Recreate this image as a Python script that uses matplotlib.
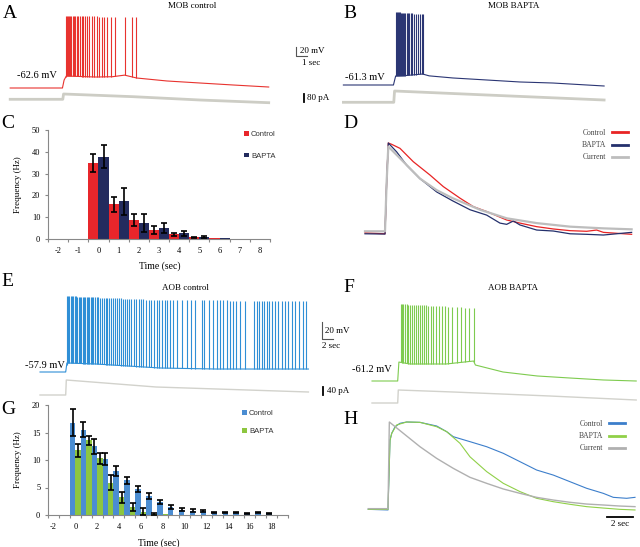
import numpy as np
import matplotlib.pyplot as plt
from matplotlib.lines import Line2D

plt.rcParams['font.family'] = ['Liberation Serif', 'DejaVu Serif']
plt.rcParams['axes.unicode_minus'] = False

W, H = 640, 547

# ---------------- data (t in s, V in mV, I in pA) ----------------
# A  MOB control
mob_ctrl_spikes = [0.24, 0.33, 0.42, 0.55, 0.64, 0.76, 0.88, 1.0, 1.12, 1.24, 1.39, 1.55,
                   1.7, 1.85, 2.0, 2.15, 2.39, 2.61, 2.82, 3.06, 3.3, 3.52, 3.76, 4.03,
                   4.36, 4.73, 5.64, 6.3, 6.64]
mob_ctrl_peak_t = [0, 6.7]
mob_ctrl_peak_v = [97.4, 95.0]
mob_ctrl_t = [-4.8, -0.05, 0.1, 0.3, 1.5, 3.0, 4.5, 5.6, 6.7, 9.45, 12.45, 15.45, 18.7]
mob_ctrl_v = [-62.6, -62.6, -45.0, -35.9, -37.0, -38.2, -37.5, -34.0, -40.4, -47.0, -51.5, -55.9, -60.4]
mob_ctrl_cur_t = [-4.8, -0.02, 0.05, 6.4, 12.45, 18.7]
mob_ctrl_cur = [0, 0, 53, 26, -7, -34]

# B  MOB BAPTA
mob_bapta_spikes = [0.18, 0.27, 0.36, 0.45, 0.55, 0.64, 0.73, 0.82, 0.91, 1.03, 1.15, 1.27,
                    1.39, 1.52, 1.67, 1.82, 1.97, 2.15, 2.33, 2.52, 2.61]
mob_bapta_peak_t = [0, 2.6]
mob_bapta_peak_v = [100.9, 96.0]
mob_bapta_t = [-4.6, -0.05, 0.15, 1.2, 2.6, 3.2, 5.36, 8.45, 11.45, 14.45, 19.1]
mob_bapta_v = [-61.3, -61.3, -41.3, -40.0, -36.9, -41.0, -45.7, -50.2, -54.6, -56.9, -63.5]
mob_bapta_cur_t = [-4.6, -0.02, 0.05, 8.45, 19.1]
mob_bapta_cur = [0, 0, 113, 73, 23]

# E  AOB control
aob_ctrl_spikes = [0.11, 0.33, 0.56, 0.78, 1.0, 1.22, 1.44, 1.67, 1.89, 2.11, 2.33, 2.56,
                   2.78, 3.0, 3.22, 3.44, 3.67, 3.89, 4.11, 4.33, 4.56, 4.83, 5.11, 5.39,
                   5.72, 6.0, 6.28, 6.61, 6.89, 7.22, 7.5, 7.83, 8.17, 8.44, 8.78, 9.11,
                   9.44, 9.78, 10.11, 10.5, 10.89, 11.28, 11.67, 12.11, 12.5, 12.89, 13.33,
                   13.78, 14.22, 14.67, 15.11, 15.56, 16.0, 16.44, 16.89, 17.33, 17.89,
                   18.56, 19.28, 20.11, 20.78, 21.5, 22.61, 23.06, 23.89, 24.56, 25.11,
                   25.67, 26.22, 26.78, 27.33, 27.89, 28.33, 29.0, 29.83, 31.33, 31.78,
                   32.22, 32.61, 33.0, 33.44, 33.89, 34.28, 34.83, 35.39, 35.94, 36.5,
                   37.06, 37.61, 38.17, 38.89, 39.44, 40.0]
aob_ctrl_peak_t = [0, 15, 40.4]
aob_ctrl_peak_v = [31.5, 26.8, 25.6]
aob_ctrl_t = [-4.33, -0.05, 0.15, 5.0, 15.7, 25.0, 40.4]
aob_ctrl_v = [-57.9, -57.9, -47.3, -48.5, -53.2, -54.4, -54.4]
aob_ctrl_cur_t = [-4.33, -0.05, 0.05, 15.0, 40.4]
aob_ctrl_cur = [0, 0, 75, 40, 15]

# F  AOB BAPTA
aob_bapta_spikes = [0.44, 0.67, 0.89, 1.17, 1.44, 1.72, 2.0, 2.33, 2.67, 3.0, 3.33, 3.67,
                    4.0, 4.33, 4.67, 5.06, 5.44, 5.89, 6.33, 6.78, 7.28, 7.83, 8.39, 9.06,
                    9.78, 10.44, 11.22, 11.89, 12.67]
aob_bapta_peak_t = [0, 12.7]
aob_bapta_peak_v = [29.4, 24.7]
aob_bapta_t = [-4.33, -0.05, 0.15, 2.0, 8.0, 12.6, 12.9, 17.5, 23.2, 28.7, 34.2, 39.7]
aob_bapta_v = [-61.2, -61.2, -38.9, -41.2, -41.2, -37.7, -42.4, -50.6, -55.3, -57.7, -60.0, -61.2]
aob_bapta_cur_t = [-4.33, -0.05, 0.05, 9.2, 25.3, 39.7]
aob_bapta_cur = [0, 0, 65, 55, 35, 15]

# C  MOB firing frequency (Hz) per 1 s bin
c_bins = [-2, -1, 0, 1, 2, 3, 4, 5, 6, 7, 8]
c_ctrl = [0.2, 0.2, 34.7, 15.9, 8.7, 4.1, 2.1, 0.8, 0.4, 0.2, 0.2]
c_ctrl_err = [0, 0, 4.1, 3.4, 2.7, 1.9, 0.5, 0.3, 0, 0, 0]
c_bapta = [0.2, 0.2, 37.8, 17.4, 7.2, 4.9, 2.6, 0.9, 0.3, 0.2, 0.2]
c_bapta_err = [0, 0, 5.2, 6.2, 4.2, 2.3, 1.1, 0.3, 0, 0, 0]

# G  AOB firing frequency (Hz) per 1 s bin
g_bins = list(range(-2, 20))
g_ctrl = [0, 0, 16.8, 15.5, 12.5, 10.2, 8.0, 6.3, 4.7, 3.5, 2.4, 1.5, 1.0, 0.8, 0.7,
          0.4, 0.5, 0.4, 0.3, 0.4, 0.35, 0]
g_ctrl_err = [0, 0, 2.4, 1.4, 1.4, 1.1, 0.9, 0.6, 0.6, 0.5, 0.4, 0.4, 0.3, 0.3, 0.2,
              0.1, 0.1, 0.1, 0.1, 0.1, 0.1, 0]
g_bapta = [0, 0, 11.8, 13.6, 10.3, 5.9, 3.2, 1.5, 0.6, 0.2, 0.1, 0, 0, 0, 0,
           0, 0, 0, 0, 0, 0, 0]
g_bapta_err = [0, 0, 1.2, 0.8, 1.0, 1.3, 1.0, 0.7, 0.6, 0.2, 0, 0, 0, 0, 0,
               0, 0, 0, 0, 0, 0, 0]

# D  normalised MOB overlay
d_ctrl_t = [-1.91, -0.09, 0.06, 0.21, 0.52, 1.27, 2.48, 4.0, 5.21, 6.73, 7.94, 9.15, 10.97,
            12.18, 13.7, 15.21, 16.73, 18.24, 19.15, 19.76, 22.33]
d_ctrl = [-0.01, -0.02, 0.57, 1.0, 0.985, 0.94, 0.79, 0.64, 0.51, 0.38, 0.285, 0.23, 0.135,
          0.10, 0.06, 0.034, 0.015, 0.008, 0.022, -0.004, -0.026]
d_bapta_t = [-1.91, -0.09, 0.06, 0.21, 0.97, 1.88, 3.09, 4.61, 6.06, 7.64, 9.15, 10.36, 10.97,
             11.58, 12.18, 13.7, 15.21, 16.73, 18.24, 19.76, 22.33]
d_bapta = [-0.02, -0.023, 0.57, 1.0, 0.90, 0.75, 0.60, 0.45, 0.35, 0.25, 0.19, 0.10, 0.086,
           0.124, 0.079, 0.022, 0.011, -0.02, -0.026, -0.034, -0.004]
d_cur_t = [-1.91, -0.09, 0.06, 0.21, 1.58, 3.09, 4.61, 6.06, 8.55, 10.97, 13.7, 16.73, 19.76, 22.33]
d_cur = [0.008, 0.008, 0.57, 0.96, 0.79, 0.60, 0.47, 0.38, 0.25, 0.154, 0.10, 0.06, 0.041, 0.03]

# H  normalised AOB overlay
h_ctrl_t = [-1.48, 0.0, 0.15, 0.28, 0.53, 0.9, 1.4, 2.4, 3.65, 4.4, 4.9, 6.15, 7.4, 8.65, 9.9,
            11.15, 12.4, 13.65, 14.9, 16.15, 16.9, 17.9, 18.53]
h_ctrl = [-0.004, -0.011, 0.79, 0.87, 0.946, 0.985, 1.0, 0.996, 0.954, 0.889, 0.831, 0.774,
          0.716, 0.64, 0.544, 0.448, 0.39, 0.314, 0.238, 0.18, 0.134, 0.123, 0.134]
h_bapta_t = [-1.48, 0.0, 0.15, 0.28, 0.65, 1.4, 2.4, 3.65, 4.4, 5.4, 6.15, 7.4, 8.65, 9.9,
             11.15, 12.4, 13.65, 14.9, 16.15, 17.4, 18.53]
h_bapta = [-0.004, -0.004, 0.79, 0.87, 0.966, 1.0, 0.996, 0.946, 0.889, 0.755, 0.60, 0.43,
           0.295, 0.2, 0.123, 0.084, 0.054, 0.027, 0.011, -0.004, -0.011]
h_cur_t = [-1.48, 0.0, 0.10, 1.15, 2.4, 3.65, 4.9, 6.15, 7.4, 8.65, 9.9, 11.15, 12.4, 13.65,
           14.9, 16.15, 17.4, 18.53]
h_cur = [0.004, 0.004, 1.0, 0.87, 0.716, 0.582, 0.467, 0.364, 0.295, 0.23, 0.18, 0.134,
         0.103, 0.077, 0.057, 0.046, 0.034, 0.027]

# ---------------- figure ----------------
fig = plt.figure(figsize=(6.4, 5.47), dpi=100)

# full-figure canvas in pixel units for labels and scale bars
canvas = fig.add_axes([0, 0, 1, 1])
canvas.set_xlim(0, W)
canvas.set_ylim(H, 0)
canvas.axis('off')


def px_axes(box):
    l, t, r, b = box
    ax = fig.add_axes([l / W, 1 - b / H, (r - l) / W, (b - t) / H])
    ax.patch.set_visible(False)
    return ax


def calibrate(ax, box, x_px, px_per_x, y_px, y_val, px_per_y):
    l, t, r, b = box
    ax.set_xlim((l - x_px) / px_per_x, (r - x_px) / px_per_x)
    ax.set_ylim(y_val - (b - y_px) / px_per_y, y_val + (y_px - t) / px_per_y)
    ax.axis('off')


def trace(box, x_px, px_per_s, v_ref, i_ref, bt, bv, spikes, pk_t, pk_v, ct, ci,
          color, cur_color, cur_lw):
    axv = px_axes(box)
    calibrate(axv, box, x_px, px_per_s, *v_ref)
    axv.plot(bt, bv, color=color, lw=0.8)
    sp = np.array(spikes)
    axv.vlines(sp, np.interp(sp, bt, bv), np.interp(sp, pk_t, pk_v), color=color, lw=0.8)
    axi = px_axes(box)
    calibrate(axi, box, x_px, px_per_s, *i_ref)
    axi.plot(ct, ci, color=cur_color, lw=cur_lw, solid_joinstyle='round')


trace((0, 8, 330, 112), 63, 11, (88, -62.6, 0.45), (99.3, 0, 0.1),
      mob_ctrl_t, mob_ctrl_v, mob_ctrl_spikes, mob_ctrl_peak_t, mob_ctrl_peak_v,
      mob_ctrl_cur_t, mob_ctrl_cur, '#e8332f', '#cdcdc5', 2.0)
trace((330, 5, 640, 112), 394, 11, (85, -61.3, 0.45), (102.3, 0, 0.1),
      mob_bapta_t, mob_bapta_v, mob_bapta_spikes, mob_bapta_peak_t, mob_bapta_peak_v,
      mob_bapta_cur_t, mob_bapta_cur, '#2b3674', '#cdcdc5', 2.0)
trace((0, 290, 320, 400), 66, 6, (372, -57.9, 0.85), (395, 0, 0.2),
      aob_ctrl_t, aob_ctrl_v, aob_ctrl_spikes, aob_ctrl_peak_t, aob_ctrl_peak_v,
      aob_ctrl_cur_t, aob_ctrl_cur, '#2f8fd6', '#d2d2cc', 1.0)
trace((330, 290, 640, 410), 398, 6, (381, -61.2, 0.85), (403, 0, 0.2),
      aob_bapta_t, aob_bapta_v, aob_bapta_spikes, aob_bapta_peak_t, aob_bapta_peak_v,
      aob_bapta_cur_t, aob_bapta_cur, '#7ecb4f', '#d2d2cc', 1.0)


def bars(box, bins, ctrl, ctrl_err, bapta, bapta_err, colors, ymax, ystep, xstep,
         leg_xy, leg_space, xlabel_xy):
    ax = px_axes(box)
    l, t, r, b = box
    x = np.array(bins, float)
    ax.bar(x - 0.25, ctrl, 0.5, color=colors[0], label='Control', zorder=2)
    ax.bar(x + 0.25, bapta, 0.5, color=colors[1], label='BAPTA', zorder=2)
    for off, vals, errs in ((-0.25, ctrl, ctrl_err), (0.25, bapta, bapta_err)):
        vals, errs = np.array(vals, float), np.array(errs, float)
        m = errs > 0
        ax.errorbar(x[m] + off, vals[m], yerr=errs[m], fmt='none', ecolor='black',
                    elinewidth=1.2, capsize=2, capthick=1.2, zorder=3)
    ax.set_xlim(bins[0] - 0.5, bins[-1] + 0.5)
    ax.set_ylim(0, ymax)
    ax.set_yticks(range(0, ymax + 1, ystep))
    ax.set_xticks(bins[::xstep])
    ax.set_xticks(np.arange(bins[0] - 0.5, bins[-1] + 1), minor=True)
    ax.tick_params(axis='x', which='major', length=0, pad=6, labelsize=6)
    ax.tick_params(axis='x', which='minor', length=2.5, width=0.8, color='#888888')
    ax.tick_params(axis='y', length=2.5, width=0.8, color='#888888', labelsize=6, pad=3)
    for s in ('top', 'right'):
        ax.spines[s].set_visible(False)
    for s in ('left', 'bottom'):
        ax.spines[s].set_color('#888888')
        ax.spines[s].set_linewidth(0.8)
    ax.set_ylabel('Frequency (Hz)', fontsize=6.5)
    ax.yaxis.set_label_coords((22 - l) / (r - l), 0.5)
    ax.set_xlabel('Time (sec)', fontsize=7)
    ax.xaxis.set_label_coords((xlabel_xy[0] - l) / (r - l), (b - xlabel_xy[1]) / (b - t))
    ax.legend(loc='upper left', bbox_to_anchor=(leg_xy[0] / W, 1 - leg_xy[1] / H),
              bbox_transform=fig.transFigure, frameon=False, borderpad=0, borderaxespad=0,
              handlelength=0.6, handleheight=0.6, handletextpad=0.3, labelspacing=leg_space,
              prop={'family': 'Liberation Sans', 'size': 5.5}, labelcolor='#333333')


bars((48, 130, 270, 239), c_bins, c_ctrl, c_ctrl_err, c_bapta, c_bapta_err,
     ('#e8262b', '#232b5e'), 50, 10, 1, (244, 131), 1.9, (160, 261))
bars((48, 405, 288, 515), g_bins, g_ctrl, g_ctrl_err, g_bapta, g_bapta_err,
     ('#4b8dd2', '#8dc63f'), 20, 5, 2, (242, 410), 1.4, (159, 538))


def overlay(box, x_px, px_per_s, y_px, px_per_y, series, leg_xy):
    ax = px_axes(box)
    calibrate(ax, box, x_px, px_per_s, y_px, 0, px_per_y)
    handles = []
    for (t, v, color, lw, label) in series:
        ax.plot(t, v, color=color, lw=lw)
        handles.append(Line2D([], [], color=color, lw=2.0, label=label))
    ax.legend(handles=handles, loc='upper right',
              bbox_to_anchor=(leg_xy[0] / W, 1 - leg_xy[1] / H),
              bbox_transform=fig.transFigure, frameon=False, markerfirst=False,
              borderpad=0, borderaxespad=0, handlelength=2.1, handletextpad=0.8,
              labelspacing=0.55, fontsize=5.5, labelcolor='#444444')
    return ax


overlay((355, 130, 640, 245), 386, 11, 232, 89,
        [(d_ctrl_t, d_ctrl, '#e82424', 0.9, 'Control'),
         (d_bapta_t, d_bapta, '#24306c', 0.9, 'BAPTA'),
         (d_cur_t, d_cur, '#bdbdbd', 1.6, 'Current')], (628, 129))
axh = overlay((355, 410, 640, 535), 388, 13.33, 509, 87,
              [(h_ctrl_t, h_ctrl, '#3c7ecb', 0.8, 'Control'),
               (h_bapta_t, h_bapta, '#90d048', 0.8, 'BAPTA'),
               (h_cur_t, h_cur, '#b0b0b0', 1.0, 'Current')], (625, 420))
axh.plot([16.4, 18.4], [-0.092, -0.092], color='black', lw=1.3, clip_on=False)
axh.text(17.4, -0.13, '2 sec', ha='center', va='top', fontsize=6.5)

# ---------------- annotations ----------------
for letter, x, y in (('A', 3, 14), ('B', 343, 14), ('C', 1, 123), ('D', 343, 123),
                     ('E', 1, 282), ('F', 343, 288), ('G', 1, 410), ('H', 343, 420)):
    canvas.text(x, y, letter, fontsize=14, ha='left', va='center')

for s, x, y in (('MOB control', 192, 6), ('MOB BAPTA', 514, 6),
                ('AOB control', 185, 288), ('AOB BAPTA', 513, 288)):
    canvas.text(x, y, s, fontsize=6.5, ha='center', va='center')

for s, x, y in (('-62.6 mV', 57, 76), ('-61.3 mV', 385, 77),
                ('-57.9 mV', 65, 365), ('-61.2 mV', 392, 369)):
    canvas.text(x, y, s, fontsize=7.5, ha='right', va='center')

# scale bars
canvas.plot([296, 296, 307], [47, 56, 56], color='#555555', lw=0.8)
canvas.text(300, 51, '20 mV', fontsize=6.5, ha='left', va='center')
canvas.text(311, 63, '1 sec', fontsize=6.5, ha='center', va='center')
canvas.plot([304, 304], [94, 102], color='black', lw=1.3)
canvas.text(307, 98, '80 pA', fontsize=6.5, ha='left', va='center')

canvas.plot([322, 322, 333], [322, 339, 339], color='#555555', lw=0.8)
canvas.text(325, 331, '20 mV', fontsize=6.5, ha='left', va='center')
canvas.text(331, 346, '2 sec', fontsize=6.5, ha='center', va='center')
canvas.plot([323, 323], [387, 395], color='black', lw=1.3)
canvas.text(327, 391, '40 pA', fontsize=6.5, ha='left', va='center')

fig.savefig('out.png', dpi=100)
